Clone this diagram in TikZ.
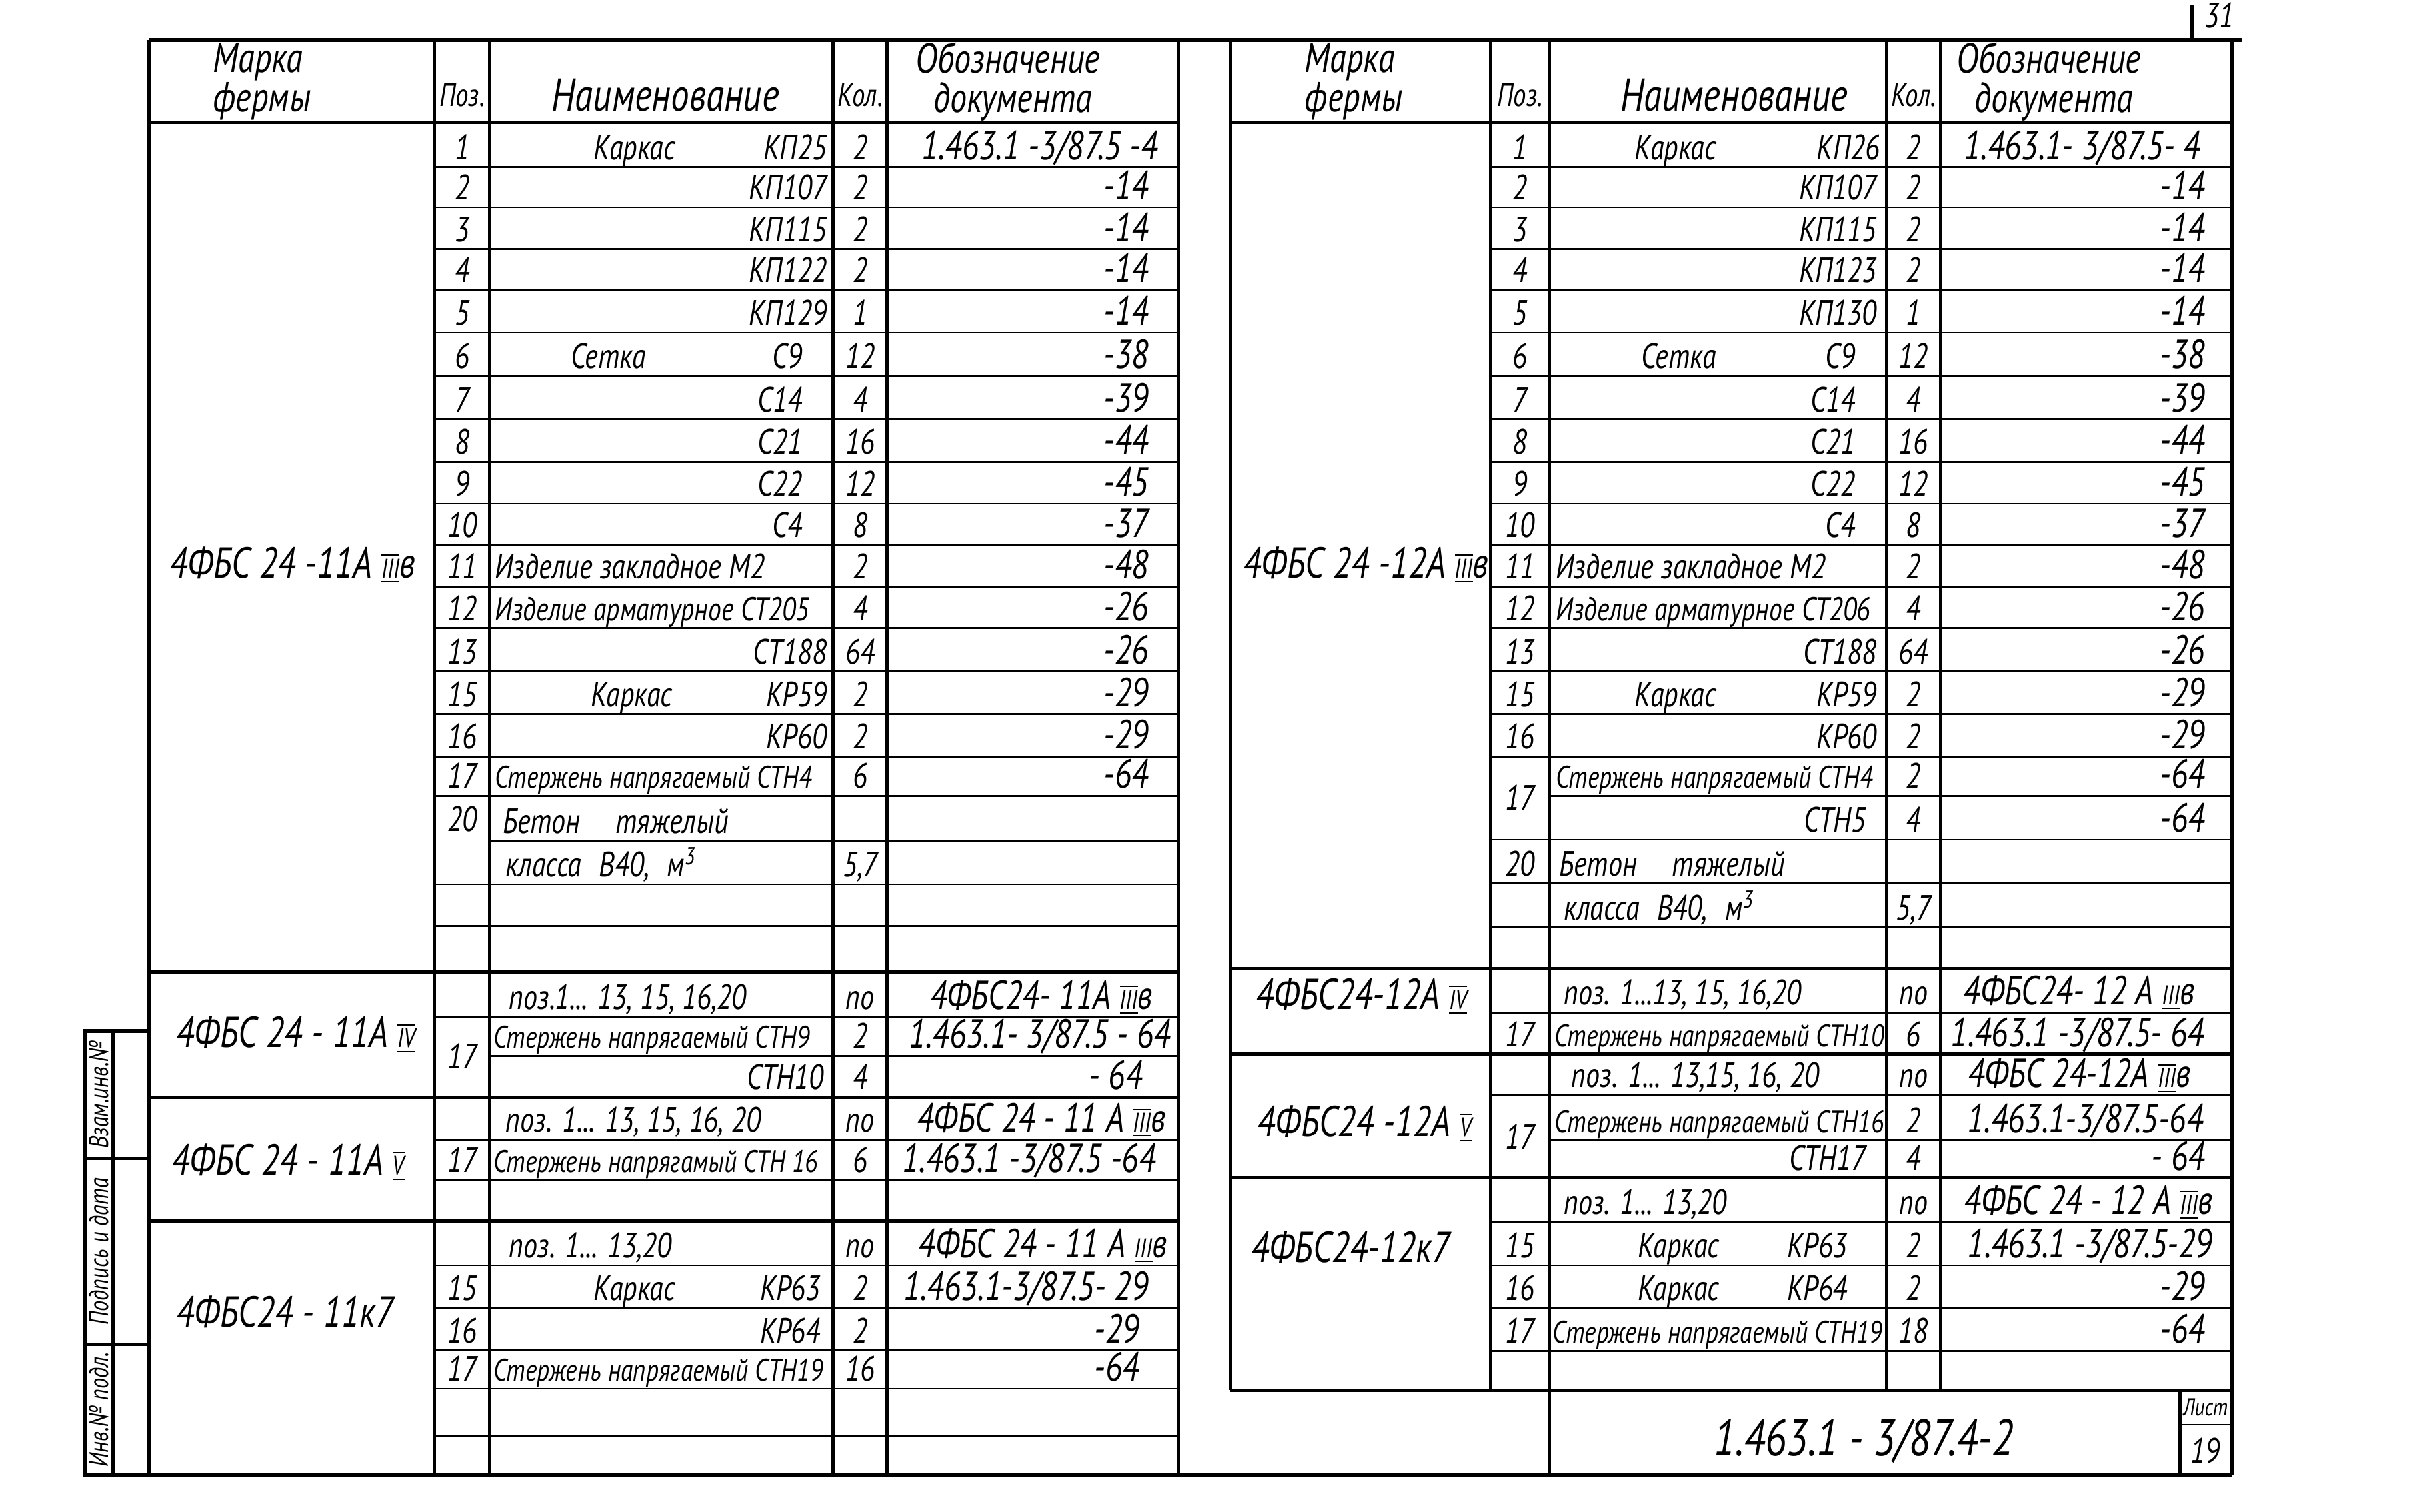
\documentclass[tikz,border=0pt]{standalone}
\usepackage{fontspec}
\setmainfont{PT Sans}[FakeStretch=0.8]
\newcommand{\rmn}[1]{$\overline{\underline{\hbox{\fontsize{10}{10}\selectfont #1}}}$}
\tikzset{
  frame/.style={line width=1.3pt},
  rowline/.style={line width=0.7pt},
  txt/.style={font=\itshape\fontsize{13}{14}\selectfont, inner sep=0pt, anchor=base},
  txtl/.style={txt, anchor=base west},
  txtr/.style={txt, anchor=base east},
  medtxt/.style={txtl, font=\itshape\fontsize{12.2}{13}\selectfont},
  longtxt/.style={txtl, font=\itshape\fontsize{11.5}{12}\selectfont},
  doc/.style={txt, font=\itshape\fontsize{15}{16}\selectfont},
  docr/.style={doc, anchor=base east},
  hdr/.style={font=\itshape\fontsize{17}{12}\selectfont, inner sep=0pt},
  hdrtwo/.style={font=\itshape\fontsize{15.5}{14.5}\selectfont, inner sep=0pt, align=left, anchor=west},
  hdrsmall/.style={font=\itshape\fontsize{12}{12}\selectfont, inner sep=0pt},
  trussmark/.style={font=\itshape\fontsize{16}{16}\selectfont, inner sep=0pt},
  stamp/.style={font=\itshape\fontsize{10}{11}\selectfont, inner sep=0pt, rotate=90},
}
\begin{document}
\begin{tikzpicture}[x=0.02cm, y=-0.02cm]
\useasboundingbox (0,0) rectangle (1568,982);

% frame
\draw[frame] (96.5,26) -- (1456,26);
\draw[frame] (55,958) -- (1449,958);
\foreach \x in {96.5,282,318,541,576,765} \draw[frame] (\x,26) -- (\x,958);
\foreach \x in {799,968,1225,1260} \draw[frame] (\x,26) -- (\x,903);
\foreach \x in {1006,1449} \draw[frame] (\x,26) -- (\x,958);
\draw[frame] (96.5,79.5) -- (765,79.5);
\draw[frame] (799,79.5) -- (1449,79.5);
\foreach \y in {631,712.6,793.2} \draw[frame] (96.5,\y) -- (765,\y);
\foreach \y in {629,684.5,765.1,903} \draw[frame] (799,\y) -- (1449,\y);

% rows
\foreach \y in {108.5,134.6,161.7,188.4,216,244.2,272.6,300.1,327.2,354.1,380.9,408,436.1,463.8,491.4}{
  \draw[rowline] (282,\y) -- (765,\y);
  \draw[rowline] (968,\y) -- (1449,\y);
}
\foreach \y in {516.9,574.3,601.3,660.3,740.2,766.7,821.9,849.5,877.1,901.9,932.3} \draw[rowline] (282,\y) -- (765,\y);
\foreach \y in {546.2,685.7} \draw[rowline] (318,\y) -- (765,\y);
\foreach \y in {545.3,573.7,602.3,657.5,711.3,793.7,821.9,849.4,877.3} \draw[rowline] (968,\y) -- (1449,\y);
\foreach \y in {516.9,740.4} \draw[rowline] (1006,\y) -- (1449,\y);

% title block and stamp
\draw[frame] (1415.6,903) -- (1415.6,958);
\draw[rowline] (1415.6,925.3) -- (1449,925.3);
\draw[frame] (55,669.5) rectangle (96.5,958);
\draw[frame] (73.5,669.5) -- (73.5,958);
\foreach \y in {752.5,873.3} \draw[frame] (55,\y) -- (96.5,\y);
\draw[frame] (1423,3) -- (1423,26);
\node[txt] (sheetno) at (1441,18) {31};

% headers
\node[hdrtwo] (lhmarka) at (138,53) {Марка\\фермы};
\node[hdrsmall] (lhpos) at (300,62) {Поз.};
\node[hdr] (lhname) at (432,62) {Наименование};
\node[hdrsmall] (lhkol) at (558.5,62) {Кол.};
\node[hdrtwo] (lhdoc) at (594,53) {Обозначение\\\ \ документа};
\node[hdrtwo] (rhmarka) at (847,53) {Марка\\фермы};
\node[hdrsmall] (rhpos) at (987,62) {Поз.};
\node[hdr] (rhname) at (1126,62) {Наименование};
\node[hdrsmall] (rhkol) at (1242.5,62) {Кол.};
\node[hdrtwo] (rhdoc) at (1270,53) {Обозначение\\\ \ документа};

% left table, upper block
\node[trussmark] (lm1) at (190,367) {4ФБС 24 -11А \rmn{III}в};
\node[txt] (lp1) at (300,103.5) {1};
\node[txt] (ln1a) at (412,103.5) {Каркас};
\node[txtr] (ln1) at (537,103.5) {КП25};
\node[txt] (lk1) at (558.5,103.5) {2};
\node[doc] (ld1) at (675,103.5) {1.463.1 -3/87.5 -4};
\foreach \b/\p/\n/\k/\d in {134.6/2/КП107/2/-14, 161.7/3/КП115/2/-14, 188.4/4/КП122/2/-14, 216/5/КП129/1/-14, 436.1/13/СТ188/64/-26, 463.8/15/КР59/2/-29, 491.4/16/КР60/2/-29}{
  \node[txt] (lp\p) at (300,\b-5) {\p};
  \node[txtr] (ln\p) at (537,\b-5) {\n};
  \node[txt] (lk\p) at (558.5,\b-5) {\k};
  \node[docr] (ld\p) at (746,\b-5) {\d};
}
\foreach \b/\p/\n/\k/\d in {244.2/6/С9/12/-38, 272.6/7/С14/4/-39, 300.1/8/С21/16/-44, 327.2/9/С22/12/-45, 354.1/10/С4/8/-37}{
  \node[txt] (lp\p) at (300,\b-5) {\p};
  \node[txtr] (ln\p) at (521,\b-5) {\n};
  \node[txt] (lk\p) at (558.5,\b-5) {\k};
  \node[docr] (ld\p) at (746,\b-5) {\d};
}
\foreach \b/\p/\n/\k/\d/\s in {380.9/11/Изделие закладное М2/2/-48/txtl, 408/12/Изделие арматурное СТ205/4/-26/medtxt, 516.9/17/Стержень напрягаемый СТН4/6/-64/longtxt}{
  \node[txt] (lp\p) at (300,\b-5) {\p};
  \node[\s] (ln\p) at (321,\b-5) {\n};
  \node[txt] (lk\p) at (558.5,\b-5) {\k};
  \node[docr] (ld\p) at (746,\b-5) {\d};
}
\node[txt] (ln6a) at (395,239.2) {Сетка};
\node[txt] (ln15a) at (410,458.8) {Каркас};
\node[txt] (lp20) at (300,540) {20};
\node[txtl] (ln20) at (326,541.2) {Бетон\quad тяжелый};
\node[txtl] (ln20b) at (328,569.3) {класса\enspace В40,\enspace м\textsuperscript{3}};
\node[txt] (lk20) at (558.5,569.3) {5,7};

% right table, upper block
\node[trussmark] (rm1) at (887,367) {4ФБС 24 -12А \rmn{III}в};
\node[txt] (rp1) at (987,103.5) {1};
\node[txt] (rn1a) at (1088,103.5) {Каркас};
\node[txtr] (rn1) at (1221,103.5) {КП26};
\node[txt] (rk1) at (1242.5,103.5) {2};
\node[doc] (rd1) at (1352,103.5) {1.463.1- 3/87.5- 4};
\foreach \b/\p/\n/\k/\d in {134.6/2/КП107/2/-14, 161.7/3/КП115/2/-14, 188.4/4/КП123/2/-14, 216/5/КП130/1/-14, 436.1/13/СТ188/64/-26, 463.8/15/КР59/2/-29, 491.4/16/КР60/2/-29}{
  \node[txt] (rp\p) at (987,\b-5) {\p};
  \node[txtr] (rn\p) at (1219,\b-5) {\n};
  \node[txt] (rk\p) at (1242.5,\b-5) {\k};
  \node[docr] (rd\p) at (1432,\b-5) {\d};
}
\foreach \b/\p/\n/\k/\d in {244.2/6/С9/12/-38, 272.6/7/С14/4/-39, 300.1/8/С21/16/-44, 327.2/9/С22/12/-45, 354.1/10/С4/8/-37}{
  \node[txt] (rp\p) at (987,\b-5) {\p};
  \node[txtr] (rn\p) at (1205,\b-5) {\n};
  \node[txt] (rk\p) at (1242.5,\b-5) {\k};
  \node[docr] (rd\p) at (1432,\b-5) {\d};
}
\foreach \b/\p/\n/\k/\d/\s in {380.9/11/Изделие закладное М2/2/-48/txtl, 408/12/Изделие арматурное СТ206/4/-26/medtxt}{
  \node[txt] (rp\p) at (987,\b-5) {\p};
  \node[\s] (rn\p) at (1010,\b-5) {\n};
  \node[txt] (rk\p) at (1242.5,\b-5) {\k};
  \node[docr] (rd\p) at (1432,\b-5) {\d};
}
\node[txt] (rn6a) at (1090,239.2) {Сетка};
\node[txt] (rn15a) at (1088,458.8) {Каркас};
\node[txt, anchor=center] (rp17) at (987,518) {17};
\node[longtxt] (rn17a) at (1010,511.9) {Стержень напрягаемый СТН4};
\node[txt] (rk17a) at (1242.5,511.9) {2};
\node[docr] (rd17a) at (1432,511.9) {-64};
\node[txtr] (rn17b) at (1212,540.3) {СТН5};
\node[txt] (rk17b) at (1242.5,540.3) {4};
\node[docr] (rd17b) at (1432,540.3) {-64};
\node[txt] (rp20) at (987,568.7) {20};
\node[txtl] (rn20) at (1012,568.7) {Бетон\quad тяжелый};
\node[txtl] (rn20b) at (1015,597.3) {класса\enspace В40,\enspace м\textsuperscript{3}};
\node[txt] (rk20) at (1242.5,597.3) {5,7};

% left table, lower blocks
\node[trussmark] (lma) at (192,672) {4ФБС 24 - 11А \rmn{IV}};
\node[trussmark] (lmb) at (187,755) {4ФБС 24 - 11А \rmn{V}};
\node[trussmark] (lmc) at (185,852) {4ФБС24 - 11к7};
\node[txtl] (lna1) at (330,655.3) {поз.1... 13, 15, 16,20};
\node[txt] (lka1) at (558.5,655.3) {по};
\node[doc] (lda1) at (676,655.3) {4ФБС24- 11А \rmn{III}в};
\node[txt, anchor=center] (lpa) at (300,686) {17};
\node[longtxt] (lna2) at (320,680.7) {Стержень напрягаемый СТН9};
\node[txt] (lka2) at (558.5,680.7) {2};
\node[doc] (lda2) at (675,680.7) {1.463.1- 3/87.5 - 64};
\node[txtr] (lna3) at (535,707.6) {СТН10};
\node[txt] (lka3) at (558.5,707.6) {4};
\node[docr] (lda3) at (742,707.6) {- 64};
\node[txtl] (lnb1) at (328,735.2) {поз. 1... 13, 15, 16, 20};
\node[txt] (lkb1) at (558.5,735.2) {по};
\node[doc] (ldb1) at (676,735.2) {4ФБС 24 - 11 А \rmn{III}в};
\node[txt] (lpb2) at (300,761.7) {17};
\node[longtxt] (lnb2) at (320,761.7) {Стержень напрягамый СТН 16};
\node[txt] (lkb2) at (558.5,761.7) {6};
\node[doc] (ldb2) at (668,761.7) {1.463.1 -3/87.5 -64};
\node[txtl] (lnc1) at (330,816.9) {поз. 1... 13,20};
\node[txt] (lkc1) at (558.5,816.9) {по};
\node[doc] (ldc1) at (677,816.9) {4ФБС 24 - 11 А \rmn{III}в};
\node[txt] (lpc2) at (300,844.5) {15};
\node[txt] (lnc2a) at (412,844.5) {Каркас};
\node[txtr] (lnc2) at (533,844.5) {КР63};
\node[txt] (lkc2) at (558.5,844.5) {2};
\node[doc] (ldc2) at (666,844.5) {1.463.1-3/87.5- 29};
\node[txt] (lpc3) at (300,872.1) {16};
\node[txtr] (lnc3) at (533,872.1) {КР64};
\node[txt] (lkc3) at (558.5,872.1) {2};
\node[docr] (ldc3) at (740,872.1) {-29};
\node[txt] (lpc4) at (300,896.9) {17};
\node[longtxt] (lnc4) at (320,896.9) {Стержень напрягаемый СТН19};
\node[txt] (lkc4) at (558.5,896.9) {16};
\node[docr] (ldc4) at (740,896.9) {-64};

% right table, lower blocks
\node[trussmark] (rma) at (884,647) {4ФБС24-12А \rmn{IV}};
\node[trussmark] (rmb) at (886,730) {4ФБС24 -12А \rmn{V}};
\node[trussmark] (rmc) at (877,810) {4ФБС24-12к7};
\node[txtl] (rna1) at (1015,652.5) {поз. 1...13, 15, 16,20};
\node[txt] (rka1) at (1242.5,652.5) {по};
\node[doc] (rda1) at (1350,652.5) {4ФБС24- 12 А \rmn{III}в};
\node[txt] (rpa2) at (987,679.5) {17};
\node[longtxt] (rna2) at (1009,679.5) {Стержень напрягаемый СТН10};
\node[txt] (rka2) at (1242.5,679.5) {6};
\node[doc] (rda2) at (1349,679.5) {1.463.1 -3/87.5- 64};
\node[txtl] (rnb1) at (1020,706.3) {поз. 1... 13,15, 16, 20};
\node[txt] (rkb1) at (1242.5,706.3) {по};
\node[doc] (rdb1) at (1350,706.3) {4ФБС 24-12А \rmn{III}в};
\node[txt, anchor=center] (rpb) at (987,738) {17};
\node[longtxt] (rnb2) at (1009,735.4) {Стержень напрягаемый СТН16};
\node[txt] (rkb2) at (1242.5,735.4) {2};
\node[doc] (rdb2) at (1354,735.4) {1.463.1-3/87.5-64};
\node[txtr] (rnb3) at (1212,760.1) {СТН17};
\node[txt] (rkb3) at (1242.5,760.1) {4};
\node[docr] (rdb3) at (1432,760.1) {- 64};
\node[txtl] (rnc1) at (1015,788.7) {поз. 1... 13,20};
\node[txt] (rkc1) at (1242.5,788.7) {по};
\node[doc] (rdc1) at (1356,788.7) {4ФБС 24 - 12 А \rmn{III}в};
\node[txt] (rpc2) at (987,816.9) {15};
\node[txt] (rnc2a) at (1090,816.9) {Каркас};
\node[txtr] (rnc2) at (1200,816.9) {КР63};
\node[txt] (rkc2) at (1242.5,816.9) {2};
\node[doc] (rdc2) at (1357,816.9) {1.463.1 -3/87.5-29};
\node[txt] (rpc3) at (987,844.4) {16};
\node[txt] (rnc3a) at (1090,844.4) {Каркас};
\node[txtr] (rnc3) at (1200,844.4) {КР64};
\node[txt] (rkc3) at (1242.5,844.4) {2};
\node[docr] (rdc3) at (1432,844.4) {-29};
\node[txt] (rpc4) at (987,872.3) {17};
\node[longtxt] (rnc4) at (1008,872.3) {Стержень напрягаемый СТН19};
\node[txt] (rkc4) at (1242.5,872.3) {18};
\node[docr] (rdc4) at (1432,872.3) {-64};

% title block and stamp labels
\node[font=\itshape\fontsize{19}{20}\selectfont, inner sep=0pt] (title) at (1210,936) {1.463.1 - 3/87.4-2};
\node[font=\itshape\fontsize{9}{10}\selectfont, inner sep=0pt] (listlbl) at (1432,914) {Лист};
\node[txt, anchor=center] (listno) at (1432,942) {19};
\node[stamp] (stampa) at (64,711) {Взам.инв.№};
\node[stamp] (stampb) at (64,813) {Подпись и дата};
\node[stamp] (stampc) at (64,915.6) {Инв.№ подл.};
\end{tikzpicture}
\end{document}
